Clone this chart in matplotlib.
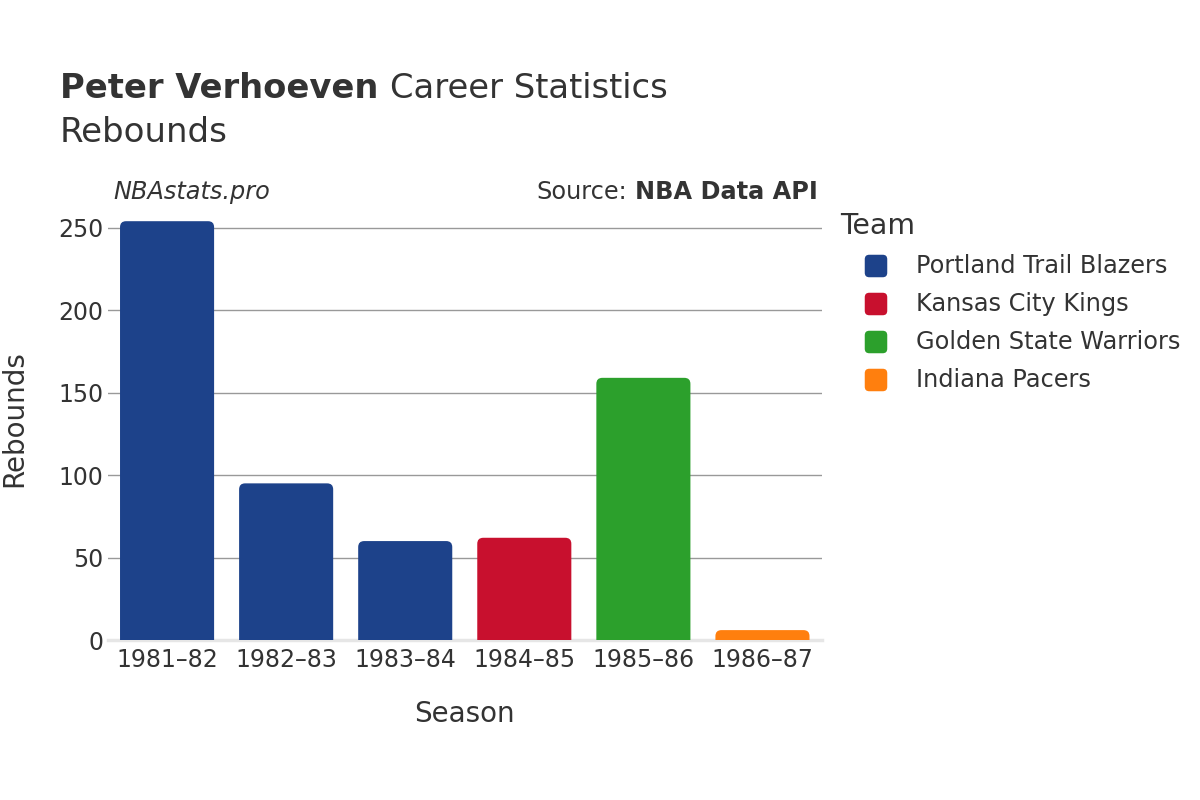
import matplotlib.pyplot as plt
from matplotlib.patches import FancyBboxPatch

seasons = ['1981–82', '1982–83', '1983–84', '1984–85', '1985–86', '1986–87']
rebounds = [254, 95, 60, 62, 159, 6]
teams = ['Portland Trail Blazers', 'Portland Trail Blazers', 'Portland Trail Blazers',
         'Kansas City Kings', 'Golden State Warriors', 'Indiana Pacers']
team_order = ['Portland Trail Blazers', 'Kansas City Kings', 'Golden State Warriors', 'Indiana Pacers']
team_colors = {
    'Portland Trail Blazers': '#1D428A',
    'Kansas City Kings': '#C8102E',
    'Golden State Warriors': '#2CA02C',
    'Indiana Pacers': '#FF7F0E',
}

txt = '#333333'
plt.rcParams['font.family'] = ['DejaVu Sans']

W, H = 1200, 800
fig = plt.figure(figsize=(12, 8), dpi=100)
ax = fig.add_axes([0.0896, 0.2, 0.5954, 0.54])

ymax = 262
ax.set_xlim(-0.5, len(seasons) - 0.5)
ax.set_ylim(0, ymax)

# rounded bars: x unit ~119 px, y unit ~1.65 px
px_x = 0.5954 * W / len(seasons)
px_y = 0.54 * H / ymax
aspect = px_x / px_y
width = 0.79
r = 6 / px_x
for i, (v, t) in enumerate(zip(rebounds, teams)):
    p = FancyBboxPatch((i - width / 2, -20), width, v + 20,
                       boxstyle='round,pad=0,rounding_size=%f' % r,
                       mutation_aspect=aspect,
                       facecolor=team_colors[t], edgecolor='none', zorder=3)
    ax.add_patch(p)

ax.set_xticks(range(len(seasons)))
ax.set_xticklabels(seasons)
ax.set_yticks([0, 50, 100, 150, 200, 250])
ax.tick_params(axis='both', labelsize=17, colors=txt, length=0)
ax.tick_params(axis='y', pad=3)
ax.tick_params(axis='x', pad=6)
ax.grid(axis='y', color='#999999', linewidth=1, zorder=0)
for s in ['top', 'right', 'left']:
    ax.spines[s].set_visible(False)
ax.spines['bottom'].set_color('#e6e6e6')
ax.spines['bottom'].set_linewidth(2.5)

ax.set_xlabel('Season', fontsize=20, color=txt, labelpad=20)
ax.set_ylabel('Rebounds', fontsize=20, color=txt)
ax.yaxis.set_label_coords(-0.111, 0.512)

# titles
fig.canvas.draw()
rend = fig.canvas.get_renderer()
t1 = fig.text(60 / W, 1 - 88 / H, 'Peter Verhoeven', fontsize=24.3, fontweight='bold', color=txt, va='center')
x_end = t1.get_window_extent(rend).x1
fig.text((x_end + 12) / W, 1 - 88 / H, 'Career Statistics', fontsize=24.3, color=txt, va='center')
fig.text(60 / W, 1 - 132 / H, 'Rebounds', fontsize=24.5, color=txt, va='center')
fig.text(113 / W, 1 - 192 / H, 'NBAstats.pro', fontsize=17.3, style='italic', color=txt, va='center')
t2 = fig.text(818 / W, 1 - 192 / H, 'NBA Data API', fontsize=17.3, fontweight='bold', color=txt, va='center', ha='right')
x_start = t2.get_window_extent(rend).x0
fig.text((x_start - 8) / W, 1 - 192 / H, 'Source:', fontsize=17.3, color=txt, va='center', ha='right')

# legend drawn by hand
fig.text(840 / W, 1 - 226 / H, 'Team', fontsize=20.4, color=txt, va='center')
sq = 22.5
for k, t in enumerate(team_order):
    yc = 266 + 38 * k
    box = FancyBboxPatch(((876 - sq / 2) / W, 1 - (yc + sq / 2) / H), sq / W, sq / H,
                         boxstyle='round,pad=0,rounding_size=%f' % (4.5 / W),
                         mutation_aspect=W / H, transform=fig.transFigure,
                         facecolor=team_colors[t], edgecolor='none')
    fig.patches.append(box)
    fig.text(916 / W, 1 - yc / H, t, fontsize=17.3, color=txt, va='center')

fig.savefig('out.png', dpi=100)
